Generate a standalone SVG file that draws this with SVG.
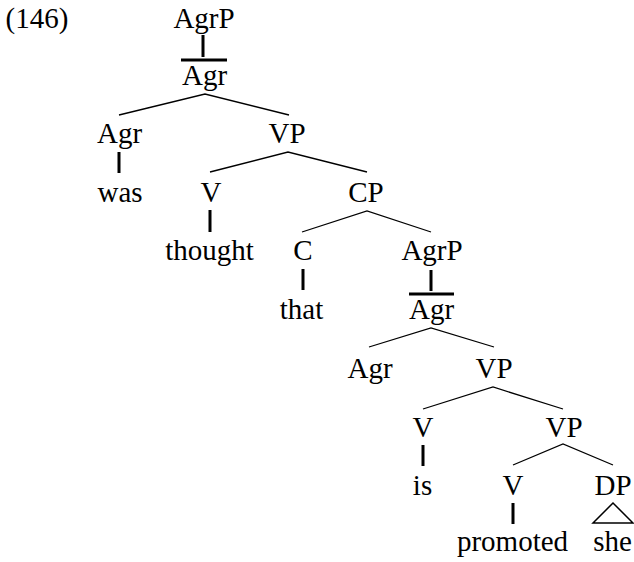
<svg xmlns="http://www.w3.org/2000/svg" width="634" height="562" viewBox="0 0 634 562">
<style>
text{font-family:"Liberation Serif",serif;font-size:29px;fill:#000;text-anchor:middle}
.e{stroke:#000;stroke-width:1.3;fill:none}
.t{stroke:#000;stroke-width:3;fill:none}
.tri{stroke:#000;stroke-width:1.5;fill:none}
</style>
<rect width="634" height="562" fill="#fff"/>
<text x="37" y="28">(146)</text>
<g id="agrp1"><text x="204" y="28">AgrP</text></g>
<g id="agrbar1"><text x="204.5" y="85">Agr</text></g>
<g id="agr1"><text x="119.5" y="143">Agr</text></g>
<g id="vp1"><text x="287" y="143">VP</text></g>
<g id="was"><text x="120" y="202">was</text></g>
<g id="v1"><text x="211" y="202">V</text></g>
<g id="cp"><text x="366" y="202">CP</text></g>
<g id="thought"><text x="209.5" y="260">thought</text></g>
<g id="c"><text x="303" y="260">C</text></g>
<g id="agrp2"><text x="432" y="260">AgrP</text></g>
<g id="that"><text x="301.5" y="319">that</text></g>
<g id="agrbar2"><text x="431.5" y="319">Agr</text></g>
<g id="agr2"><text x="370" y="378">Agr</text></g>
<g id="vp2"><text x="494" y="378">VP</text></g>
<g id="v2"><text x="423" y="437">V</text></g>
<g id="vp3"><text x="564" y="437">VP</text></g>
<g id="is"><text x="422.5" y="495">is</text></g>
<g id="v3"><text x="513" y="495">V</text></g>
<g id="dp"><text x="613" y="495">DP</text></g>
<g id="promoted"><text x="512.5" y="551">promoted</text></g>
<g id="she"><text x="612.5" y="551">she</text></g>
<g id="connectors">
<path class="e" d="M119 115L205 94L289 115M210 172L288 152L367 172M302 232L367 211L431 232M369 347L431 328L494 347M423 409L493 387L563 409M513 465L563 444L613 465"/>
<path class="t" d="M203 35V57M181 60H227M119 152V173M210 210V232M303 269V290M431 270V291M409 294H454M423 445V466M513 503V524"/>
<path class="tri" d="M613 503L593 523H633Z"/>
</g>
</svg>
